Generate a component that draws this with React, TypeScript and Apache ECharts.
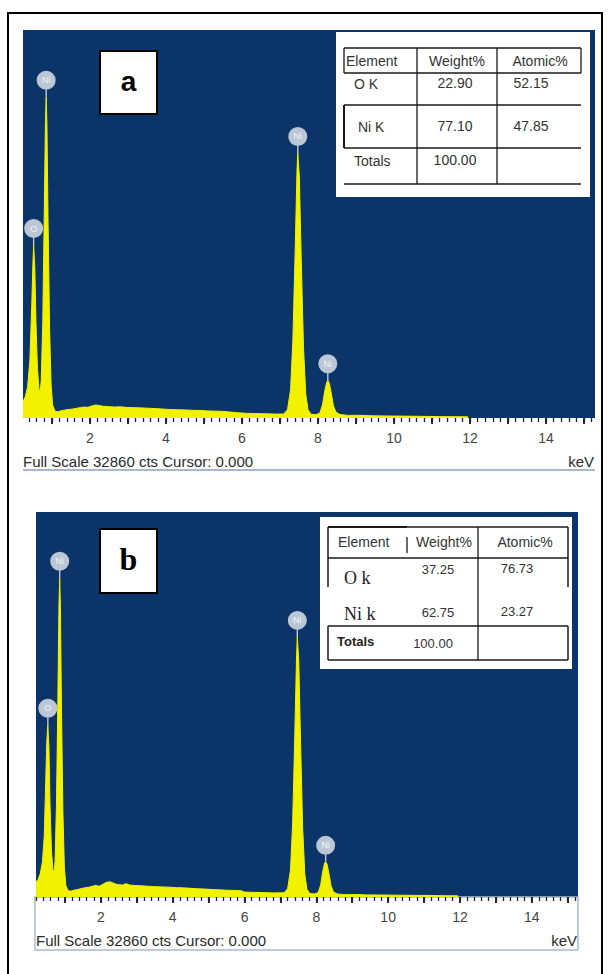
import React, { useEffect, useRef } from 'react';
import * as echarts from 'echarts';

// ---------------- data ----------------
const fullScale = 32860;
const tickLabelValues = [2, 4, 6, 8, 10, 12, 14];
const majorTickValues = [1, 2, 3, 4, 5, 6, 7, 8, 9, 10, 11, 12, 13, 14, 15];
const footerText = 'Full Scale 32860 cts Cursor: 0.000';
const unitText = 'keV';
const panelLetters = ['a', 'b'];

const peakLabels = ['O', 'Ni', 'Ni', 'Ni'];
const peakEnergies = [0.52, 0.85, 7.47, 8.26];

const tableHeader = ['Element', 'Weight%', 'Atomic%'];
const elementsA = ['O K', 'Ni K', 'Totals'];
const weightA = ['22.90', '77.10', '100.00'];
const atomicA = ['52.15', '47.85', ''];
const elementsB = ['O k', 'Ni k', 'Totals'];
const weightB = ['37.25', '62.75', '100.00'];
const atomicB = ['76.73', '23.27', ''];

// [keV, counts]
const spectrumA: [number, number][] = [
  [0.24, 1400], [0.3, 1800], [0.36, 2600], [0.42, 4800], [0.47, 9500], [0.5, 13000],
  [0.52, 14650], [0.55, 12800], [0.58, 8200], [0.62, 4200], [0.66, 2500], [0.69, 2100],
  [0.72, 3200], [0.76, 8000], [0.8, 17500], [0.83, 25000], [0.85, 27200], [0.87, 24800],
  [0.9, 16500], [0.94, 7500], [0.98, 2800], [1.02, 1100], [1.08, 600], [1.15, 520],
  [1.25, 620], [1.35, 680], [1.45, 720], [1.55, 760], [1.65, 820], [1.75, 880],
  [1.85, 930], [1.95, 900], [2.05, 1020], [2.15, 1100], [2.25, 1060], [2.35, 990],
  [2.5, 960], [2.65, 930], [2.8, 950], [2.95, 900], [3.1, 880], [3.3, 860],
  [3.5, 830], [3.7, 800], [3.9, 760], [4.1, 720], [4.3, 700], [4.5, 680],
  [4.7, 650], [4.9, 640], [5.1, 600], [5.3, 580], [5.5, 560], [5.7, 500],
  [5.9, 440], [6.1, 400], [6.3, 380], [6.6, 360], [6.9, 330], [7.1, 340],
  [7.2, 700], [7.28, 2400], [7.34, 6500], [7.4, 14000], [7.45, 21000], [7.47, 22450],
  [7.51, 20500], [7.56, 13500], [7.62, 6000], [7.68, 2000], [7.74, 700], [7.82, 320],
  [7.95, 280], [8.05, 420], [8.12, 1100], [8.18, 2300], [8.23, 3000], [8.26, 3200],
  [8.3, 2950], [8.35, 2100], [8.41, 1000], [8.48, 480], [8.58, 300], [8.8, 220],
  [9.1, 230], [9.4, 190], [9.8, 170], [10.2, 160], [10.7, 140], [11.2, 120],
  [11.6, 110], [11.95, 100],
];

const spectrumB: [number, number][] = [
  [0.19, 1300], [0.25, 1500], [0.31, 2000], [0.37, 3000], [0.42, 5200], [0.46, 9800],
  [0.49, 13200], [0.52, 14700], [0.55, 12800], [0.58, 8000], [0.62, 4000], [0.66, 2400],
  [0.69, 2000], [0.72, 3000], [0.76, 7800], [0.8, 17000], [0.83, 25000], [0.85, 27250],
  [0.87, 24800], [0.9, 16000], [0.94, 7200], [0.98, 2600], [1.02, 1000], [1.08, 560],
  [1.15, 500], [1.25, 580], [1.35, 640], [1.45, 720], [1.55, 780], [1.65, 830],
  [1.75, 900], [1.85, 1000], [1.95, 920], [2.05, 1080], [2.15, 1250], [2.25, 1300],
  [2.35, 1180], [2.45, 1060], [2.6, 1020], [2.7, 1140], [2.8, 1020], [2.95, 980],
  [3.1, 960], [3.3, 920], [3.5, 880], [3.7, 860], [3.9, 840], [4.1, 800],
  [4.3, 780], [4.5, 740], [4.7, 700], [4.9, 680], [5.1, 640], [5.3, 610],
  [5.5, 580], [5.7, 560], [5.9, 540], [6.0, 420], [6.2, 400], [6.5, 380],
  [6.8, 350], [7.1, 360], [7.2, 700], [7.28, 2300], [7.34, 6300], [7.4, 13800],
  [7.45, 20600], [7.47, 22200], [7.51, 20200], [7.56, 13300], [7.62, 5800], [7.68, 1900],
  [7.74, 650], [7.82, 300], [7.95, 260], [8.05, 380], [8.12, 1000], [8.18, 2200],
  [8.23, 2900], [8.26, 3000], [8.3, 2800], [8.35, 2000], [8.41, 950], [8.48, 420],
  [8.58, 260], [8.8, 200], [9.1, 210], [9.4, 180], [9.8, 170], [10.2, 160],
  [10.7, 140], [11.2, 130], [11.6, 110], [11.95, 100],
];

// ---------------- styling / layout ----------------
const BLUE = '#0b3568';
const YELLOW = '#f2f200';
const SANS = 'Liberation Sans';
const SERIF = 'Liberation Serif';

const minorTicks: number[] = [];
for (let i = 1; i <= 76; i++) minorTicks.push(Math.round(i * 2) / 10);

const panels = [
  { left: 23, top: 30, width: 572, height: 388, min: 0.24, max: 15.29, footY: 461, lineY: 470 },
  { left: 36, top: 512, width: 542, height: 385, min: 0.19, max: 15.29, footY: 940, lineY: 950 },
];

function text(
  x: number,
  y: number,
  s: string,
  size: number,
  family = SANS,
  align = 'left',
  fill = '#222',
  weight = 'normal'
) {
  return {
    type: 'text',
    x,
    y,
    silent: true,
    style: {
      text: s,
      fontSize: size,
      fontFamily: family,
      fontWeight: weight,
      fill,
      textAlign: align,
      textVerticalAlign: 'middle',
    },
  };
}
function line(x1: number, y1: number, x2: number, y2: number, w = 1.2, stroke = '#1a1a1a') {
  return { type: 'line', silent: true, shape: { x1, y1, x2, y2 }, style: { stroke, lineWidth: w } };
}

function buildGraphics() {
  const g: any[] = [];
  // outer frame
  g.push({ type: 'rect', silent: true, shape: { x: 8, y: 13, width: 594, height: 980 }, style: { fill: 'none', stroke: '#000', lineWidth: 2 } });

  // footers
  panels.forEach((p, i) => {
    g.push(text(p.left, p.footY, footerText, 15, SANS, 'left', '#2a2a2a'));
    g.push(text(p.left + p.width - 1, p.footY, unitText, 15, SANS, 'right', '#2a2a2a'));
    if (i === 0) {
      g.push(line(p.left, p.lineY, p.left + p.width, p.lineY, 2, '#a7b9d0'));
    } else {
      g.push({ type: 'rect', silent: true, shape: { x: p.left - 1, y: p.top + p.height, width: p.width + 1, height: p.lineY - p.top - p.height }, style: { fill: 'none', stroke: '#a7b9d0', lineWidth: 1.5 } });
    }
  });

  // letter boxes
  g.push({ type: 'rect', silent: true, shape: { x: 100, y: 51, width: 57, height: 63 }, style: { fill: '#fff', stroke: '#000', lineWidth: 2 } });
  g.push(text(128.5, 81, panelLetters[0], 28, SANS, 'center', '#000', 'bold'));
  g.push({ type: 'rect', silent: true, shape: { x: 100, y: 529, width: 57, height: 64 }, style: { fill: '#fff', stroke: '#000', lineWidth: 2 } });
  g.push(text(128.5, 559, panelLetters[1], 32, SERIF, 'center', '#000', 'bold'));

  // ---- table a ----
  g.push({ type: 'rect', silent: true, shape: { x: 336, y: 32, width: 254, height: 165 }, style: { fill: '#fff' } });
  const ta = { l: 344, c1: 417, c2: 497, r: 581, y0: 48, y1: 73, y2: 105, y3: 148, y4: 184 };
  [ta.y0, ta.y1, ta.y2, ta.y3, ta.y4].forEach((y) => g.push(line(ta.l, y, ta.r, y, 1.3)));
  g.push(line(ta.c1, ta.y0, ta.c1, ta.y4, 1.3));
  g.push(line(ta.c2, ta.y0, ta.c2, ta.y4, 1.3));
  g.push(line(ta.l, ta.y0, ta.l, ta.y1, 1.3));
  g.push(line(ta.l, ta.y2, ta.l, ta.y3, 2));
  g.push(line(ta.r, ta.y0, ta.r, ta.y1, 1.3));
  g.push(text(346, 61, tableHeader[0], 14, SANS, 'left', '#333'));
  g.push(text(457, 61, tableHeader[1], 14, SANS, 'center', '#333'));
  g.push(text(540, 61, tableHeader[2], 14, SANS, 'center', '#333'));
  const rowYA = [84, 127, 161];
  const elXA = [354, 358, 354];
  elementsA.forEach((e, i) => {
    g.push(text(elXA[i], rowYA[i], e, 14, SANS, 'left', '#333'));
    g.push(text(455, rowYA[i] - 1, weightA[i], 14, SANS, 'center', '#333'));
    if (atomicA[i]) g.push(text(531, rowYA[i] - 1, atomicA[i], 14, SANS, 'center', '#333'));
  });

  // ---- table b ----
  g.push({ type: 'rect', silent: true, shape: { x: 320, y: 517, width: 252, height: 152 }, style: { fill: '#fff' } });
  const tb = { l: 328, cm: 407, c: 478, r: 568, y0: 527, y1: 558, y2: 626, y3: 660, yo: 587 };
  g.push(line(tb.l, tb.y0, tb.r, tb.y0, 1.3));
  g.push(line(tb.l, tb.y0, tb.cm, tb.y0, 2.2));
  g.push(line(tb.l, tb.y1, tb.r, tb.y1, 1.3));
  g.push(line(tb.l, tb.y2, tb.r, tb.y2, 1.5));
  g.push(line(tb.l, tb.y3, tb.r, tb.y3, 1.5));
  g.push(line(tb.c, tb.y0, tb.c, tb.y3, 1.3));
  g.push(line(tb.cm, 537, tb.cm, 553, 1.3));
  g.push(line(tb.l, tb.y0, tb.l, tb.yo, 1.5));
  g.push(line(tb.l, tb.y2, tb.l, tb.y3, 1.5));
  g.push(line(tb.r, tb.y0, tb.r, tb.yo, 1.5));
  g.push(line(tb.r, tb.y2, tb.r, tb.y3, 1.5));
  g.push(text(338, 542, tableHeader[0], 14, SANS, 'left', '#333'));
  g.push(text(444, 542, tableHeader[1], 14, SANS, 'center', '#333'));
  g.push(text(525, 542, tableHeader[2], 14, SANS, 'center', '#333'));
  const rowYB = [578, 614, 641];
  const numYB = [569, 612, 643];
  elementsB.forEach((e, i) => {
    if (i < 2) g.push(text(344, rowYB[i], e, 18, SERIF, 'left', '#222'));
    else g.push(text(337, rowYB[i], e, 13, SANS, 'left', '#222', 'bold'));
    g.push(text(i < 2 ? 438 : 433, numYB[i], weightB[i], 13, SANS, 'center', '#333'));
    if (atomicB[i]) g.push(text(517, numYB[i] - 1, atomicB[i], 13, SANS, 'center', '#333'));
  });
  return g;
}

const CIRCLE_PATH =
  'path://M0,9.5 A9.5,9.5 0 1 1 19,9.5 A9.5,9.5 0 1 1 0,9.5 Z M8.8,18 L10.2,18 L10.2,26 L8.8,26 Z';

function peakMarks(spec: [number, number][]) {
  return peakLabels.map((lab, i) => {
    const pt = spec.find((d) => Math.abs(d[0] - peakEnergies[i]) < 1e-6) as [number, number];
    return { name: lab, coord: [pt[0], pt[1]] };
  });
}

export default function App() {
  const ref = useRef<HTMLDivElement>(null);
  useEffect(() => {
    document.body.style.margin = '0';
    const chart = echarts.init(ref.current!, undefined, { renderer: 'svg' });
    const xAxes: any[] = [];
    const yAxes: any[] = [];
    const series: any[] = [];
    [spectrumA, spectrumB].forEach((spec, i) => {
      const p = panels[i];
      xAxes.push({
        gridIndex: i,
        type: 'value',
        position: 'bottom',
        min: p.min,
        max: p.max,
        axisLine: { show: false },
        splitLine: { show: false },
        axisTick: { show: true, customValues: majorTickValues, length: 6, lineStyle: { color: '#111', width: 1.8 } },
        axisLabel: { show: true, customValues: tickLabelValues, margin: 13, color: '#444', fontSize: 14, fontFamily: SANS },
      });
      xAxes.push({
        gridIndex: i,
        type: 'value',
        position: 'bottom',
        offset: 0,
        min: p.min,
        max: p.max,
        axisLine: { show: false },
        splitLine: { show: false },
        axisTick: { show: true, customValues: minorTicks.filter((v) => v > p.min && v < p.max), length: 4, lineStyle: { color: '#222', width: 1.3 } },
        axisLabel: { show: false },
      });
      yAxes.push({ gridIndex: i, type: 'value', min: 0, max: fullScale, show: false });
      series.push({
        type: 'line',
        xAxisIndex: i * 2,
        yAxisIndex: i,
        data: spec,
        symbol: 'none',
        smooth: false,
        silent: true,
        lineStyle: { color: YELLOW, width: 1 },
        areaStyle: { color: YELLOW, opacity: 1 },
        markPoint: {
          silent: true,
          symbol: CIRCLE_PATH,
          symbolSize: [19, 26],
          symbolOffset: [0, -13],
          itemStyle: { color: '#c6d0dc', opacity: 0.95 },
          label: { show: true, position: 'inside', formatter: '{b}', color: '#f4f7fb', fontSize: 9, fontFamily: SANS, offset: [0, -3.5] },
          data: peakMarks(spec),
        },
      });
    });
    chart.setOption({
      animation: false,
      backgroundColor: '#ffffff',
      grid: panels.map((p) => ({
        left: p.left,
        top: p.top,
        width: p.width,
        height: p.height,
        show: true,
        backgroundColor: BLUE,
        borderWidth: 0,
        containLabel: false,
      })),
      xAxis: xAxes,
      yAxis: yAxes,
      series,
      graphic: buildGraphics(),
    });
    return () => chart.dispose();
  }, []);
  return <div ref={ref} style={{ width: 608, height: 974 }} />;
}
